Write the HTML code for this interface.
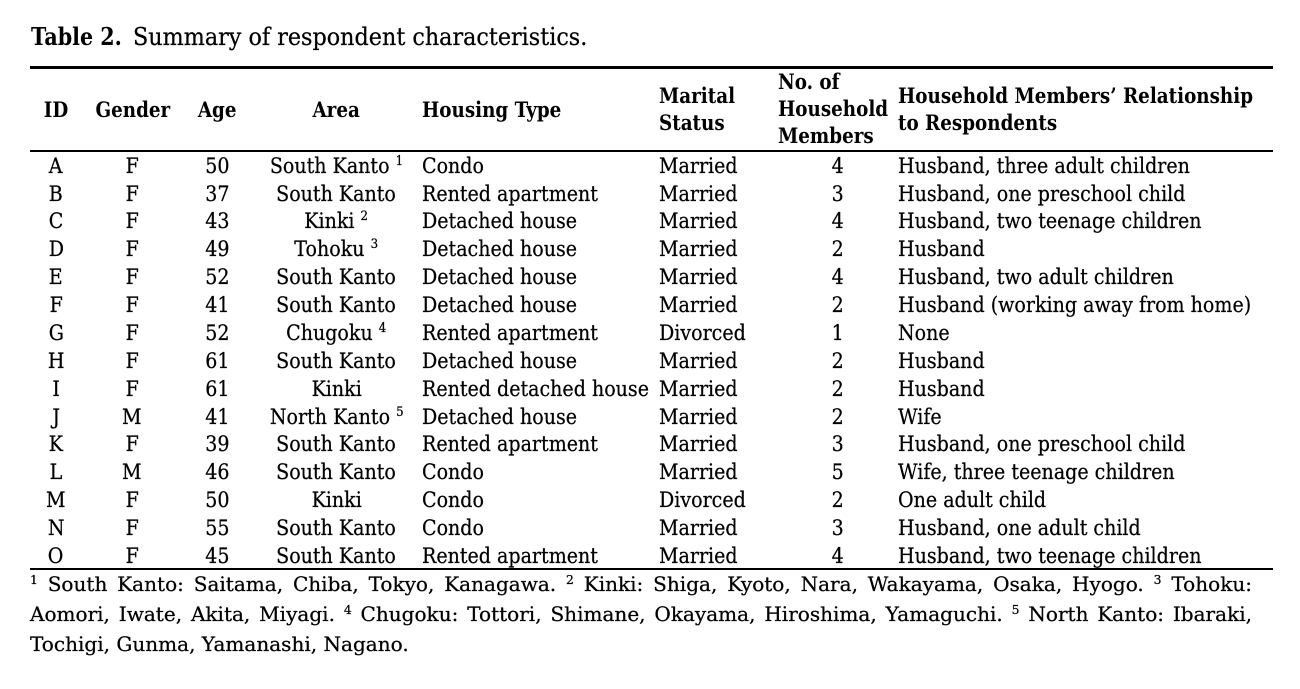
<!DOCTYPE html>
<html>
<head>
<meta charset="utf-8">
<style>
:root{--k:0.93;--kb:0.82;--kt:0.86;--ktb:0.8;--kf:0.95;}
html,body{margin:0;padding:0;background:#fff;}
body{width:1300px;height:689px;position:relative;overflow:hidden;color:#000;
font-family:"DejaVu Serif","Liberation Serif",serif;}
.rule{position:absolute;left:30px;width:1243px;height:2px;background:#000;}
.row{position:absolute;left:0;width:1300px;height:28px;line-height:28px;font-size:21px;-webkit-text-stroke:0.25px #000;}
.c{position:absolute;top:0;width:200px;text-align:center;white-space:nowrap;}
.l{position:absolute;top:0;white-space:nowrap;}
.c>span{display:inline-block;transform:scaleX(var(--k));transform-origin:50% 50%;}
.l>span{display:inline-block;transform:scaleX(var(--k));transform-origin:0 50%;}
.hd{font-weight:bold;-webkit-text-stroke:0;}
.hd .c>span,.hd .l>span{transform:scaleX(var(--kb));}
sup{font-size:13px;vertical-align:baseline;position:relative;top:-8px;line-height:0;}
.t{position:absolute;top:21.7px;height:30px;line-height:30px;font-size:24px;white-space:nowrap;}
.t span{display:inline-block;transform-origin:0 50%;}
#tb{font-weight:bold;transform:scaleX(var(--ktb));}
#tr{transform:scaleX(var(--kt));-webkit-text-stroke:0.25px #000;}
.fl{position:absolute;left:30px;height:30px;line-height:30px;font-size:19.5px;
transform:scaleX(var(--kf));transform-origin:0 50%;-webkit-text-stroke:0.25px #000;}
.fj{width:calc(1222px / var(--kf));text-align:justify;text-align-last:justify;}
.fl sup{font-size:12px;top:-7px;}
#f3{display:inline-block;white-space:nowrap;}
</style>
</head>
<body>
<div class="t" style="left:31px"><span id="tb">Table 2.</span></div>
<div class="t" style="left:132.7px"><span id="tr">Summary of respondent characteristics.</span></div>

<div class="rule" style="top:66px;height:2.5px"></div>

<!-- header -->
<div class="row hd" style="top:95.7px">
 <div class="c" style="left:-44px"><span>ID</span></div>
 <div class="c" style="left:32.5px"><span>Gender</span></div>
 <div class="c" style="left:117px"><span>Age</span></div>
 <div class="c" style="left:236.5px"><span>Area</span></div>
 <div class="l" style="left:422px"><span>Housing Type</span></div>
</div>
<div class="row hd" style="top:81.7px">
 <div class="l" style="left:659px"><span>Marital</span></div>
 <div class="l" style="left:898px"><span id="refb">Household Members’ Relationship</span></div>
</div>
<div class="row hd" style="top:108.7px">
 <div class="l" style="left:659px"><span>Status</span></div>
 <div class="l" style="left:898px"><span>to Respondents</span></div>
</div>
<div class="row hd" style="top:67.7px">
 <div class="l" style="left:778px"><span>No. of</span></div>
</div>
<div class="row hd" style="top:94.7px">
 <div class="l" style="left:778px"><span>Household</span></div>
</div>
<div class="row hd" style="top:121.7px">
 <div class="l" style="left:778px"><span>Members</span></div>
</div>

<div class="rule" style="top:150px"></div>

<!-- body rows -->
<div class="row" style="top:151.7px">
 <div class="c" style="left:-44px"><span>A</span></div>
 <div class="c" style="left:32px"><span>F</span></div>
 <div class="c" style="left:117px"><span>50</span></div>
 <div class="c" style="left:236.5px"><span>South Kanto <sup>1</sup></span></div>
 <div class="l" style="left:422px"><span>Condo</span></div>
 <div class="l" style="left:659px"><span>Married</span></div>
 <div class="c" style="left:738px"><span>4</span></div>
 <div class="l" style="left:898px"><span id="ref">Husband, three adult children</span></div>
</div>
<div class="row" style="top:179.57px">
 <div class="c" style="left:-44px"><span>B</span></div>
 <div class="c" style="left:32px"><span>F</span></div>
 <div class="c" style="left:117px"><span>37</span></div>
 <div class="c" style="left:236.5px"><span>South Kanto</span></div>
 <div class="l" style="left:422px"><span>Rented apartment</span></div>
 <div class="l" style="left:659px"><span>Married</span></div>
 <div class="c" style="left:738px"><span>3</span></div>
 <div class="l" style="left:898px"><span>Husband, one preschool child</span></div>
</div>
<div class="row" style="top:207.44px">
 <div class="c" style="left:-44px"><span>C</span></div>
 <div class="c" style="left:32px"><span>F</span></div>
 <div class="c" style="left:117px"><span>43</span></div>
 <div class="c" style="left:236.5px"><span>Kinki <sup>2</sup></span></div>
 <div class="l" style="left:422px"><span>Detached house</span></div>
 <div class="l" style="left:659px"><span>Married</span></div>
 <div class="c" style="left:738px"><span>4</span></div>
 <div class="l" style="left:898px"><span>Husband, two teenage children</span></div>
</div>
<div class="row" style="top:235.31px">
 <div class="c" style="left:-44px"><span>D</span></div>
 <div class="c" style="left:32px"><span>F</span></div>
 <div class="c" style="left:117px"><span>49</span></div>
 <div class="c" style="left:236.5px"><span>Tohoku <sup>3</sup></span></div>
 <div class="l" style="left:422px"><span>Detached house</span></div>
 <div class="l" style="left:659px"><span>Married</span></div>
 <div class="c" style="left:738px"><span>2</span></div>
 <div class="l" style="left:898px"><span>Husband</span></div>
</div>
<div class="row" style="top:263.18px">
 <div class="c" style="left:-44px"><span>E</span></div>
 <div class="c" style="left:32px"><span>F</span></div>
 <div class="c" style="left:117px"><span>52</span></div>
 <div class="c" style="left:236.5px"><span>South Kanto</span></div>
 <div class="l" style="left:422px"><span>Detached house</span></div>
 <div class="l" style="left:659px"><span>Married</span></div>
 <div class="c" style="left:738px"><span>4</span></div>
 <div class="l" style="left:898px"><span>Husband, two adult children</span></div>
</div>
<div class="row" style="top:291.05px">
 <div class="c" style="left:-44px"><span>F</span></div>
 <div class="c" style="left:32px"><span>F</span></div>
 <div class="c" style="left:117px"><span>41</span></div>
 <div class="c" style="left:236.5px"><span>South Kanto</span></div>
 <div class="l" style="left:422px"><span>Detached house</span></div>
 <div class="l" style="left:659px"><span>Married</span></div>
 <div class="c" style="left:738px"><span>2</span></div>
 <div class="l" style="left:898px"><span>Husband (working away from home)</span></div>
</div>
<div class="row" style="top:318.92px">
 <div class="c" style="left:-44px"><span>G</span></div>
 <div class="c" style="left:32px"><span>F</span></div>
 <div class="c" style="left:117px"><span>52</span></div>
 <div class="c" style="left:236.5px"><span>Chugoku <sup>4</sup></span></div>
 <div class="l" style="left:422px"><span>Rented apartment</span></div>
 <div class="l" style="left:659px"><span>Divorced</span></div>
 <div class="c" style="left:738px"><span>1</span></div>
 <div class="l" style="left:898px"><span>None</span></div>
</div>
<div class="row" style="top:346.79px">
 <div class="c" style="left:-44px"><span>H</span></div>
 <div class="c" style="left:32px"><span>F</span></div>
 <div class="c" style="left:117px"><span>61</span></div>
 <div class="c" style="left:236.5px"><span>South Kanto</span></div>
 <div class="l" style="left:422px"><span>Detached house</span></div>
 <div class="l" style="left:659px"><span>Married</span></div>
 <div class="c" style="left:738px"><span>2</span></div>
 <div class="l" style="left:898px"><span>Husband</span></div>
</div>
<div class="row" style="top:374.66px">
 <div class="c" style="left:-44px"><span>I</span></div>
 <div class="c" style="left:32px"><span>F</span></div>
 <div class="c" style="left:117px"><span>61</span></div>
 <div class="c" style="left:236.5px"><span>Kinki</span></div>
 <div class="l" style="left:422px"><span>Rented detached house</span></div>
 <div class="l" style="left:659px"><span>Married</span></div>
 <div class="c" style="left:738px"><span>2</span></div>
 <div class="l" style="left:898px"><span>Husband</span></div>
</div>
<div class="row" style="top:402.53px">
 <div class="c" style="left:-44px"><span>J</span></div>
 <div class="c" style="left:32px"><span>M</span></div>
 <div class="c" style="left:117px"><span>41</span></div>
 <div class="c" style="left:236.5px"><span>North Kanto <sup>5</sup></span></div>
 <div class="l" style="left:422px"><span>Detached house</span></div>
 <div class="l" style="left:659px"><span>Married</span></div>
 <div class="c" style="left:738px"><span>2</span></div>
 <div class="l" style="left:898px"><span>Wife</span></div>
</div>
<div class="row" style="top:430.4px">
 <div class="c" style="left:-44px"><span>K</span></div>
 <div class="c" style="left:32px"><span>F</span></div>
 <div class="c" style="left:117px"><span>39</span></div>
 <div class="c" style="left:236.5px"><span>South Kanto</span></div>
 <div class="l" style="left:422px"><span>Rented apartment</span></div>
 <div class="l" style="left:659px"><span>Married</span></div>
 <div class="c" style="left:738px"><span>3</span></div>
 <div class="l" style="left:898px"><span>Husband, one preschool child</span></div>
</div>
<div class="row" style="top:458.27px">
 <div class="c" style="left:-44px"><span>L</span></div>
 <div class="c" style="left:32px"><span>M</span></div>
 <div class="c" style="left:117px"><span>46</span></div>
 <div class="c" style="left:236.5px"><span>South Kanto</span></div>
 <div class="l" style="left:422px"><span>Condo</span></div>
 <div class="l" style="left:659px"><span>Married</span></div>
 <div class="c" style="left:738px"><span>5</span></div>
 <div class="l" style="left:898px"><span>Wife, three teenage children</span></div>
</div>
<div class="row" style="top:486.14px">
 <div class="c" style="left:-44px"><span>M</span></div>
 <div class="c" style="left:32px"><span>F</span></div>
 <div class="c" style="left:117px"><span>50</span></div>
 <div class="c" style="left:236.5px"><span>Kinki</span></div>
 <div class="l" style="left:422px"><span>Condo</span></div>
 <div class="l" style="left:659px"><span>Divorced</span></div>
 <div class="c" style="left:738px"><span>2</span></div>
 <div class="l" style="left:898px"><span>One adult child</span></div>
</div>
<div class="row" style="top:514.01px">
 <div class="c" style="left:-44px"><span>N</span></div>
 <div class="c" style="left:32px"><span>F</span></div>
 <div class="c" style="left:117px"><span>55</span></div>
 <div class="c" style="left:236.5px"><span>South Kanto</span></div>
 <div class="l" style="left:422px"><span>Condo</span></div>
 <div class="l" style="left:659px"><span>Married</span></div>
 <div class="c" style="left:738px"><span>3</span></div>
 <div class="l" style="left:898px"><span>Husband, one adult child</span></div>
</div>
<div class="row" style="top:541.88px">
 <div class="c" style="left:-44px"><span>O</span></div>
 <div class="c" style="left:32px"><span>F</span></div>
 <div class="c" style="left:117px"><span>45</span></div>
 <div class="c" style="left:236.5px"><span>South Kanto</span></div>
 <div class="l" style="left:422px"><span>Rented apartment</span></div>
 <div class="l" style="left:659px"><span>Married</span></div>
 <div class="c" style="left:738px"><span>4</span></div>
 <div class="l" style="left:898px"><span>Husband, two teenage children</span></div>
</div>

<div class="rule" style="top:568px"></div>

<!-- footnotes -->
<div class="fl fj" style="top:570.25px"><sup>1</sup> South Kanto: Saitama, Chiba, Tokyo, Kanagawa. <sup>2</sup> Kinki: Shiga, Kyoto, Nara, Wakayama, Osaka, Hyogo. <sup>3</sup> Tohoku:</div>
<div class="fl fj" style="top:600.25px">Aomori, Iwate, Akita, Miyagi. <sup>4</sup> Chugoku: Tottori, Shimane, Okayama, Hiroshima, Yamaguchi. <sup>5</sup> North Kanto: Ibaraki,</div>
<div class="fl" style="top:630.25px"><span id="f3">Tochigi, Gunma, Yamanashi, Nagano.</span></div>

<script>
(function(){
  function w(id){var e=document.getElementById(id);return e?e.offsetWidth:0;}
  var s=document.documentElement.style;
  var a=w('ref'); if(a) s.setProperty('--k',(292/a).toFixed(4));
  var b=w('refb'); if(b) s.setProperty('--kb',(355/b).toFixed(4));
  var c=w('tb'); if(c) s.setProperty('--ktb',(91/c).toFixed(4));
  var d=w('tr'); if(d) s.setProperty('--kt',(454/d).toFixed(4));
  var f=w('f3'); if(f) s.setProperty('--kf',(379/f).toFixed(4));
})();
</script>
</body>
</html>
